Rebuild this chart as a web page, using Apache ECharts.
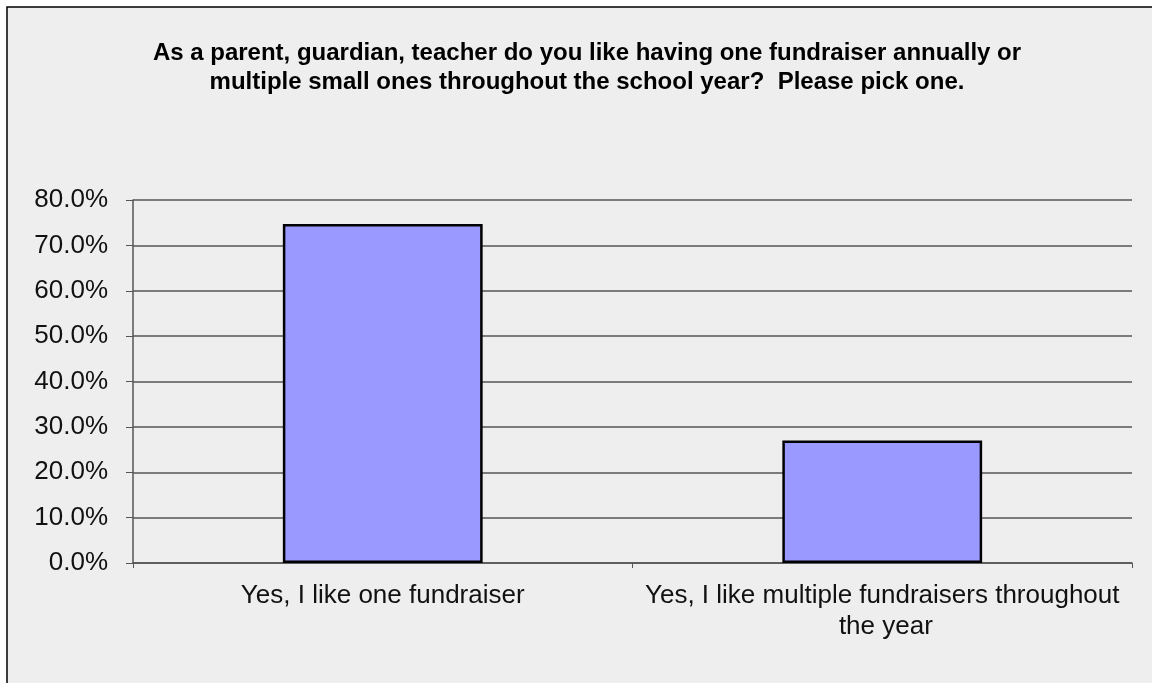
<!DOCTYPE html>
<html>
<head>
<meta charset="utf-8">
<script src="https://cdn.jsdelivr.net/npm/echarts@6/dist/echarts.min.js"></script>
<style>
html,body{margin:0;padding:0;background:#fff;}
#chart{width:1152px;height:683px;}
</style>
</head>
<body>
<div id="chart"></div>
<script>
const titleText = "As a parent, guardian, teacher do you like having one fundraiser annually or\nmultiple small ones throughout the school year?  Please pick one.";
const categories = ["Yes, I like one fundraiser", "Yes, I like multiple fundraisers throughout the year"];
const values = [74.7, 27.0];
const yTicks = [0, 10, 20, 30, 40, 50, 60, 70, 80];

const chart = echarts.init(document.getElementById('chart'), null, {renderer: 'canvas'});
chart.setOption({
  backgroundColor: '#ffffff',
  animation: false,
  graphic: [
    {type: 'rect', shape: {x: 7, y: 7, width: 1200, height: 720}, style: {fill: '#eeeeee', stroke: '#000', lineWidth: 1.5}, z: -10}
  ],
  title: {
    text: titleText,
    left: 582, top: 34, textAlign: 'center',
    textStyle: {fontFamily: 'Liberation Sans, Arial', fontWeight: 'bold', fontSize: 24, color: '#000', lineHeight: 29}
  },
  grid: {left: 133, right: 20, top: 200, bottom: 120, containLabel: false},
  xAxis: {
    type: 'category',
    data: categories,
    axisLine: {lineStyle: {color: '#555', width: 1.5}},
    axisTick: {show: true, length: 5, lineStyle: {color: '#555'}},
    axisLabel: {
      fontFamily: 'Liberation Sans, Arial', fontSize: 26, color: '#111', margin: 17,
      width: 480, overflow: 'break', lineHeight: 31, interval: 0
    }
  },
  yAxis: {
    type: 'value', min: 0, max: 80, interval: 10,
    axisLine: {show: true, lineStyle: {color: '#555', width: 1.5}},
    axisTick: {show: true, length: 7, lineStyle: {color: '#555'}},
    splitLine: {lineStyle: {color: '#555', width: 1.5}},
    axisLabel: {
      fontFamily: 'Liberation Sans, Arial', fontSize: 26, color: '#111', margin: 25,
      formatter: v => yTicks.includes(v) ? v.toFixed(1) + '%' : ''
    }
  },
  series: [{
    type: 'bar',
    data: values,
    barWidth: '40%',
    itemStyle: {color: '#9999ff', borderColor: '#000', borderWidth: 2.5}
  }]
});
</script>
</body>
</html>
